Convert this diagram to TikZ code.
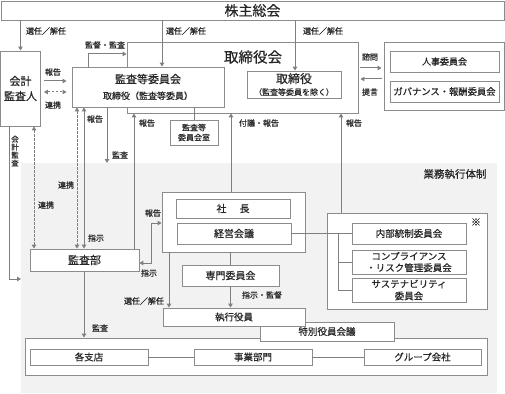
\documentclass[tikz,border=0pt]{standalone}
\usepackage{fontspec}
\newfontfamily\jp[FakeBold=0.5]{Noto Sans CJK JP}
\usetikzlibrary{arrows.meta}
\definecolor{lncol}{HTML}{7F7F7F}
\definecolor{bdcol}{HTML}{8C8C8C}
\definecolor{txcol}{HTML}{262626}
\definecolor{bgcol}{HTML}{F2F2F2}
\begin{document}
\begin{tikzpicture}[x=1pt,y=-1pt,
  box/.style={draw=bdcol,line width=0.9pt,fill=white,inner sep=0pt,text=txcol,font=\jp\fontsize{9.5}{11}\selectfont,align=center},
  arr/.style={draw=lncol,line width=1pt,-{Triangle[length=4pt,width=4.5pt]}},
  darr/.style={draw=lncol,line width=1pt,{Triangle[length=4pt,width=4.5pt]}-{Triangle[length=4pt,width=4.5pt]}},
  dsh/.style={dash pattern=on 2.5pt off 1.5pt},
  lab/.style={text=txcol,font=\jp\fontsize{8}{9}\selectfont,inner sep=0pt},
  plain/.style={draw=lncol,line width=1pt}]
\useasboundingbox (0,0) rectangle (505,393);
\fill[bgcol] (21,163) rectangle (497,393);

% boxes
\node[box,minimum width=503pt,minimum height=19pt,font=\jp\fontsize{14}{16}\selectfont] (kabu) at (252.5,10.5) {株主総会};
\node[box,minimum width=40pt,minimum height=75pt,font=\jp\fontsize{11}{15}\selectfont] (kaikei) at (20.5,88.5) {会計\\監査人};
\node[box,minimum width=231pt,minimum height=71pt] (torikai) at (242.5,77.5) {};
\node[lab,font=\jp\fontsize{14.5}{16}\selectfont] (torikaiL) at (253,57) {取締役会};
\node[box,minimum width=152pt,minimum height=40pt,font=\jp\fontsize{9}{16}\selectfont] (kansatou) at (148,87) {{\fontsize{11}{12}\selectfont 監査等委員会}\\取締役（監査等委員）};
\node[box,minimum width=94pt,minimum height=27pt,font=\jp\fontsize{8}{12}\selectfont] (tori) at (294,84.5) {{\fontsize{12}{13}\selectfont 取締役}\\（監査等委員を除く）};
\node[box,minimum width=120pt,minimum height=68pt] (adv) at (444,76) {};
\node[box,minimum width=109pt,minimum height=21pt,font=\jp\fontsize{9}{11}\selectfont] (jinji) at (444.5,61.5) {人事委員会};
\node[box,minimum width=109pt,minimum height=21pt,font=\jp\fontsize{9.3}{11}\selectfont] (gov) at (444.5,91.5) {ガバナンス・報酬委員会};
\node[box,minimum width=48pt,minimum height=25pt,font=\jp\fontsize{8}{10}\selectfont] (shitsu) at (194,132.5) {監査等\\委員会室};

\node[box,minimum width=143pt,minimum height=60pt] (shagrp) at (233.5,222) {};
\node[box,minimum width=114pt,minimum height=19pt,font=\jp\fontsize{10}{12}\selectfont] (shacho) at (233,208.5) {社\hspace{13pt}長};
\node[box,minimum width=114pt,minimum height=21pt,font=\jp\fontsize{10}{12}\selectfont] (keiei) at (234,233.5) {経営会議};
\node[box,minimum width=109pt,minimum height=22pt,font=\jp\fontsize{11}{12}\selectfont] (kansabu) at (84.5,260) {監査部};
\node[box,minimum width=97pt,minimum height=21pt,font=\jp\fontsize{10}{12}\selectfont] (senmon) at (230.5,275.5) {専門委員会};

\node[box,minimum width=160pt,minimum height=96pt] (rgrp) at (407,261) {};
\node[box,minimum width=114pt,minimum height=21pt] (naibu) at (409,233.5) {内部統制委員会};
\node[box,minimum width=114pt,minimum height=24pt,font=\jp\fontsize{9.5}{11.5}\selectfont] (comp) at (409,262) {コンプライアンス\\・リスク管理委員会};
\node[box,minimum width=114pt,minimum height=24pt,font=\jp\fontsize{9.5}{12}\selectfont] (sust) at (409,290) {サステナビリティ\\委員会};

\node[box,minimum width=462pt,minimum height=37pt] (bottom) at (256,356.5) {};
\node[box,minimum width=134pt,minimum height=19pt] (tokubetsu) at (327,331.5) {特別役員会議};
\node[box,minimum width=142pt,minimum height=18pt] (shikko) at (234,317) {執行役員};
\node[box,minimum width=118pt,minimum height=16pt] (shiten) at (89,357) {各支店};
\node[box,minimum width=118pt,minimum height=16pt] (jigyo) at (253,357) {事業部門};
\node[box,minimum width=117pt,minimum height=16pt] (group) at (422.5,357) {グループ会社};

% labels
\node[lab] (l1) at (46,31) {選任／解任};
\node[lab] (l2) at (186,31) {選任／解任};
\node[lab] (l3) at (323,31) {選任／解任};
\node[lab] (l4) at (105,45) {監督・監査};
\node[lab] (l5) at (53,72) {報告};
\node[lab] (l6) at (53,105) {連携};
\node[lab] (l7) at (370,57) {諮問};
\node[lab] (l8) at (370,92) {提言};
\node[lab] (l9) at (95,119) {報告};
\node[lab] (l10) at (120,155) {監査};
\node[lab] (l11) at (147,123) {報告};
\node[lab] (l12) at (259,123) {付議・報告};
\node[lab] (l13) at (354,123) {報告};
\node[lab] (l14) at (66,185) {連携};
\node[lab] (l15) at (46,205) {連携};
\node[lab] (l16) at (96,238) {指示};
\node[lab] (l17) at (153,213) {報告};
\node[lab] (l18) at (149,273) {指示};
\node[lab] (l19) at (262,295) {指示・監督};
\node[lab] (l20) at (144,301) {選任／解任};
\node[lab] (l21) at (100,328) {監査};
\node[lab,font=\jp\fontsize{10.5}{12}\selectfont] (l22) at (455,174) {業務執行体制};
\node[lab,font=\jp\fontsize{10}{12}\selectfont] (l23) at (476,222) {※};
\node[lab,align=center,font=\jp\fontsize{7.5}{8}\selectfont] (l24) at (15,151) {会\\計\\監\\査};

% connectors
\draw[arr] (kaikei.north |- kabu.south) -- (kaikei.north);
\draw[arr] (162,0 |- kabu.south) -- (162,0 |- kansatou.north);
\draw[arr] (295,0 |- kabu.south) -- (295,0 |- tori.north);
\draw[arr] (88,0 |- kansatou.north) -- (88,54) -- (torikai.west |- 0,54);
\draw[arr,shorten <=3pt,shorten >=5pt] (kaikei.east |- 0,81) -- (kansatou.west |- 0,81);
\draw[darr,dsh,shorten <=3pt,shorten >=5pt] (kaikei.east |- 0,92) -- (kansatou.west |- 0,92);
\draw[arr,shorten <=2pt,shorten >=2pt] (torikai.east |- 0,68) -- (adv.west |- 0,68);
\draw[arr,shorten <=2pt,shorten >=2pt] (adv.west |- 0,79) -- (torikai.east |- 0,79);
\draw[plain] (shitsu.north |- kansatou.south) -- (shitsu.north);
\draw[darr,dsh] (77,0 |- kansatou.south) -- (77,0 |- kansabu.north);
\draw[darr] (84,0 |- kansatou.south) -- (84,0 |- kansabu.north);
\coordinate (kansaEnd) at (107,163);
\draw[arr] (107,0 |- kansatou.south) -- (kansaEnd);
\draw[arr] (134,0 |- kansabu.north) -- (134,0 |- torikai.south);
\draw[arr] (231,0 |- shagrp.north) -- (231,0 |- torikai.south);
\draw[arr] (341,0 |- rgrp.north) -- (341,0 |- torikai.south);
\draw[darr] (shagrp.west |- 0,223) -- (151,223) -- (151,263) -- (kansabu.east |- 0,263);
\draw[plain] (senmon.north |- shagrp.south) -- (senmon.north);
\draw[arr] (senmon.south) -- (senmon.south |- shikko.north);
\draw[arr] (169,0 |- shagrp.south) -- (169,0 |- shikko.north);
\draw[plain] (keiei.east) -- (naibu.west);
\draw[plain] (338,0 |- naibu.west) -- (338,0 |- sust.west) -- (sust.west);
\draw[plain] (338,0 |- comp.west) -- (comp.west);
\draw[arr] (84,0 |- kansabu.south) -- (84,0 |- bottom.north);
\coordinate (kaikeiEnd) at (21,279);
\draw[arr] (9,0 |- kaikei.south) -- (9,279) -- (kaikeiEnd);
\draw[darr,dsh] (34,0 |- kaikei.south) -- (34,0 |- kansabu.north);
\draw[plain] (shiten.east) -- (jigyo.west);
\draw[plain] (jigyo.east) -- (group.west);
\end{tikzpicture}
\end{document}
